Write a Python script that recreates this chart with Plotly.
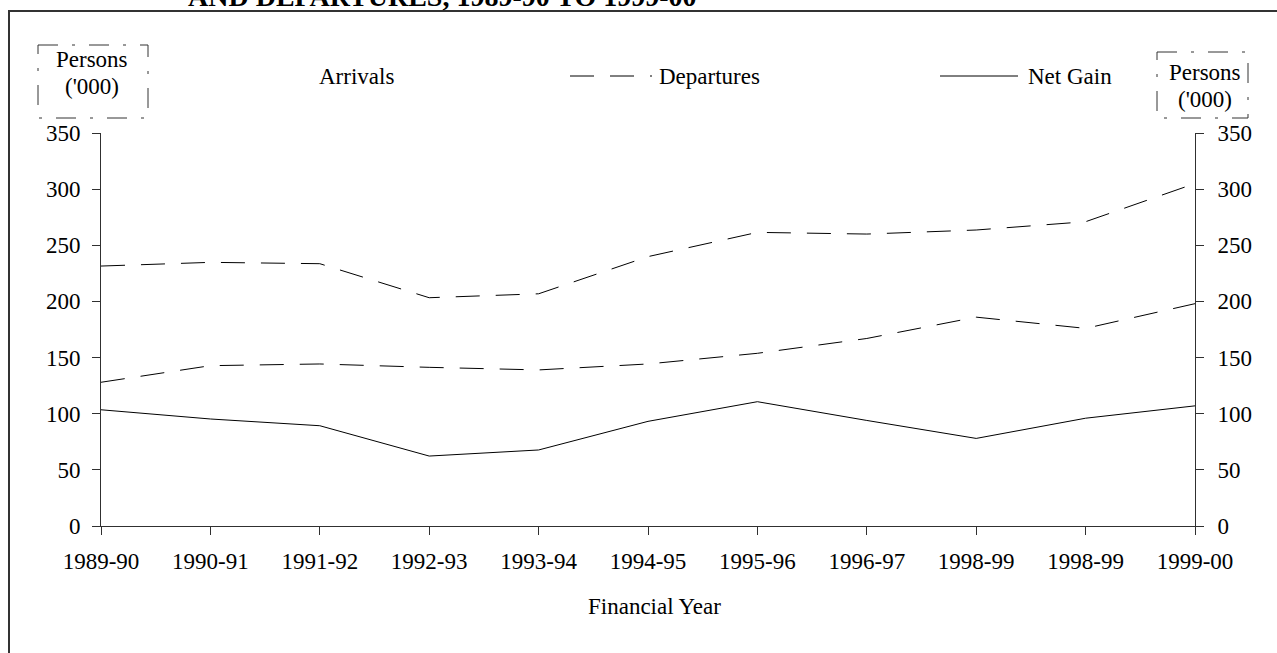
import plotly.graph_objects as go

# ---- data ----
years = ["1989-90", "1990-91", "1991-92", "1992-93", "1993-94", "1994-95",
         "1995-96", "1996-97", "1998-99", "1998-99", "1999-00"]
arrivals = [231.5, 234.8, 233.6, 203.3, 206.8, 239.9, 261.5, 260.0, 263.6, 271.0, 305.0]
departures = [128.0, 142.8, 144.3, 141.3, 139.0, 144.3, 153.8, 167.0, 186.0, 176.0, 198.0]
net_gain = [103.5, 95.3, 89.3, 62.3, 67.7, 93.2, 110.7, 94.0, 78.0, 96.0, 107.0]
y_ticks = [0, 50, 100, 150, 200, 250, 300, 350]

W, H = 1277, 653
# plot area in page pixels
L, R, T, B = 101, 1195, 133, 526
FONT = "Liberation Serif, Times New Roman, serif"


def px(x):
    return (x - L) / (R - L)


def py(y):
    return (B - y) / (B - T)


xs = list(range(len(years)))
dash = "24px,16px"

fig = go.Figure()
fig.add_trace(go.Scatter(x=xs, y=arrivals, mode="lines", name="Arrivals",
                         line=dict(color="black", width=1, dash=dash), yaxis="y2"))
fig.add_trace(go.Scatter(x=xs, y=departures, mode="lines", name="Departures",
                         line=dict(color="black", width=1, dash=dash)))
fig.add_trace(go.Scatter(x=xs, y=net_gain, mode="lines", name="Net Gain",
                         line=dict(color="black", width=1)))

axis_common = dict(showgrid=False, zeroline=False, showline=True, linecolor="#303030",
                   linewidth=1, ticks="outside", ticklen=8, tickcolor="#303030",
                   tickfont=dict(family=FONT, size=23, color="black"), automargin=False)

fig.update_layout(
    template="none",
    width=W, height=H,
    margin=dict(l=L, r=W - R, t=T, b=H - B, pad=0),
    paper_bgcolor="white", plot_bgcolor="white",
    showlegend=False,
    font=dict(family=FONT, size=23, color="black"),
    xaxis=dict(range=[0, len(years) - 1], tickvals=xs, ticktext=years,
               ticklabelstandoff=6, **axis_common),
    yaxis=dict(range=[0, 350], tickvals=y_ticks, ticklabelstandoff=7, **axis_common),
    yaxis2=dict(range=[0, 350], tickvals=y_ticks, overlaying="y", side="right",
                ticklabelstandoff=9, **axis_common),
)

ann = []
# title line, partly cut off by the top of the page
ann.append(dict(text="<b>AND DEPARTURES, 1989-90 TO 1999-00</b>", x=px(442), y=py(14),
                xref="paper", yref="paper", xanchor="center", yanchor="bottom",
                showarrow=False, font=dict(family=FONT, size=28, color="black")))
# axis title
ann.append(dict(text="Financial Year", x=px(655), y=py(606), xref="paper", yref="paper",
                xanchor="center", yanchor="middle", showarrow=False,
                font=dict(family=FONT, size=23)))
# legend labels
for txt, cx in [("Arrivals", 356), ("Departures", 709), ("Net Gain", 1070)]:
    ann.append(dict(text=txt, x=px(cx), y=py(76), xref="paper", yref="paper",
                    xanchor="center", yanchor="middle", showarrow=False,
                    font=dict(family=FONT, size=23)))
# unit boxes
for cx, y1, y2 in [(92, 60, 87), (1205, 73, 100)]:
    ann.append(dict(text="Persons", x=px(cx), y=py(y1), xref="paper", yref="paper",
                    xanchor="center", yanchor="middle", showarrow=False,
                    font=dict(family=FONT, size=23)))
    ann.append(dict(text="('000)", x=px(cx), y=py(y2), xref="paper", yref="paper",
                    xanchor="center", yanchor="middle", showarrow=False,
                    font=dict(family=FONT, size=23)))
fig.update_layout(annotations=ann)

shapes = []
# outer border (extends past the page right and bottom)
shapes.append(dict(type="rect", xref="paper", yref="paper", x0=px(9), x1=px(1300),
                   y0=py(11), y1=py(680), line=dict(color="#333333", width=2)))
# legend samples
shapes.append(dict(type="line", xref="paper", yref="paper", x0=px(570), x1=px(652),
                   y0=py(76), y1=py(76), line=dict(color="black", width=1, dash=dash)))
shapes.append(dict(type="line", xref="paper", yref="paper", x0=px(940), x1=px(1018),
                   y0=py(76), y1=py(76), line=dict(color="black", width=1)))
# dash-dot unit boxes
dd = "20px,14px,3px,14px"
for x0, x1, y0, y1 in [(38, 148, 45, 118), (1157, 1248, 52, 118)]:
    shapes.append(dict(type="rect", xref="paper", yref="paper", x0=px(x0), x1=px(x1),
                       y0=py(y0), y1=py(y1), line=dict(color="#333333", width=1, dash=dd)))
fig.update_layout(shapes=shapes)

fig.write_html(
    "out.html",
    config={"displayModeBar": False},
    post_script="document.body.style.margin='0';"
                "document.documentElement.style.overflow='hidden';",
)
